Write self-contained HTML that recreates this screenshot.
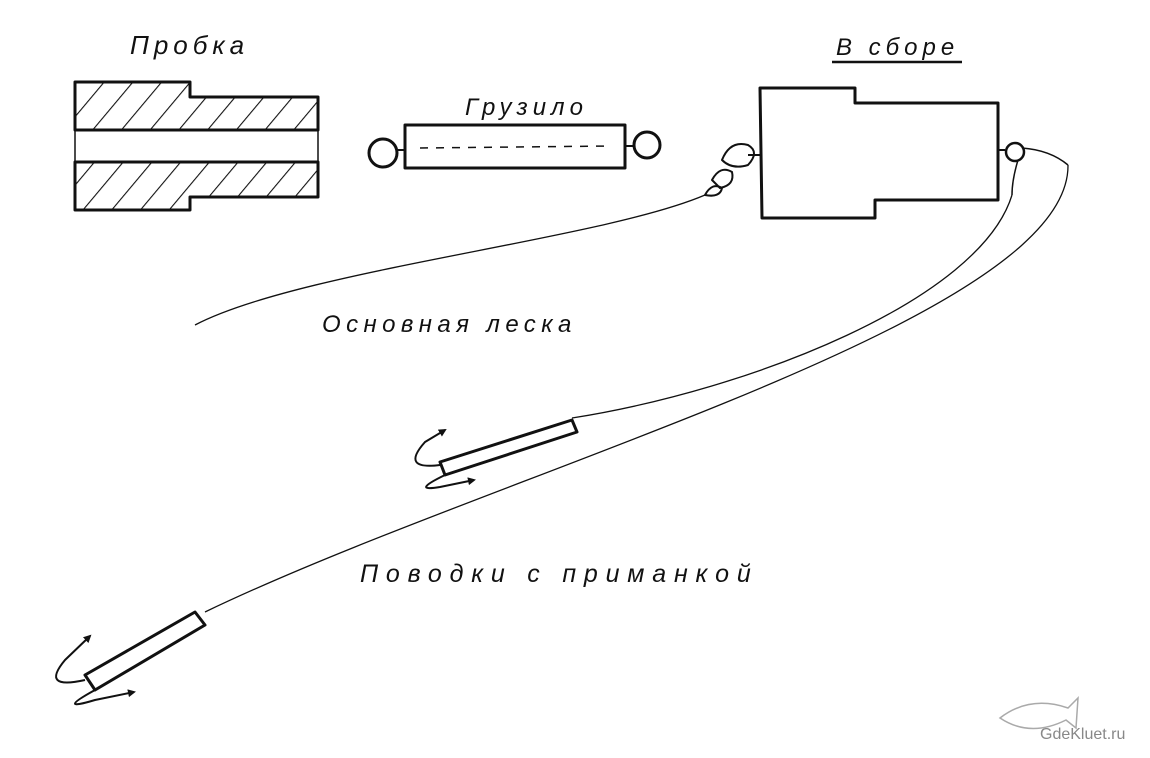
<!DOCTYPE html>
<html><head><meta charset="utf-8"><style>
html,body{margin:0;padding:0;background:#fff;}
svg{display:block}
text{font-family:"Liberation Sans","DejaVu Sans",sans-serif;font-style:italic;fill:#111}
</style></head><body>
<svg width="1150" height="758" viewBox="0 0 1150 758" xmlns="http://www.w3.org/2000/svg">
<defs>
<pattern id="h" width="22" height="22" patternUnits="userSpaceOnUse" patternTransform="rotate(40)">
<line x1="0" y1="0" x2="0" y2="22" stroke="#111" stroke-width="2.2"/></pattern>
<marker id="ar" markerWidth="8" markerHeight="8" refX="6" refY="4" orient="auto" markerUnits="userSpaceOnUse">
<path d="M0,0 L8,4 L0,8 Z" fill="#111"/></marker>
</defs>
<g fill="none" stroke="#111" stroke-width="3" stroke-linejoin="round">
<path d="M75,82 L190,82 L190,97 L318,97 L318,130 L75,130 Z" fill="url(#h)"/>
<path d="M75,162 L318,162 L318,197 L190,197 L190,210 L75,210 Z" fill="url(#h)"/>
<line x1="318" y1="130" x2="318" y2="162" stroke-width="1.5"/>
<line x1="75" y1="130" x2="75" y2="162" stroke-width="1.5"/>
<rect x="405" y="125" width="220" height="43"/>
<circle cx="383" cy="153" r="14"/>
<circle cx="647" cy="145" r="13"/>
<line x1="397" y1="150" x2="405" y2="150" stroke-width="2"/>
<line x1="625" y1="146" x2="634" y2="146" stroke-width="2"/>
<line x1="420" y1="148" x2="612" y2="146" stroke-width="1.5" stroke-dasharray="8,8"/>
<path d="M760,88 L855,88 L855,103 L998,103 L998,200 L875,200 L875,218 L762,218 Z"/>
<path d="M722,160 Q730,140 748,145 Q760,152 748,165 Q732,170 722,160 Z" stroke-width="2"/>
<path d="M748,155 L760,155" stroke-width="2"/>
<path d="M712,180 Q720,165 732,172 Q735,185 720,188 Z" stroke-width="2"/>
<path d="M705,195 Q712,182 722,188 Q720,198 705,195 Z" stroke-width="2"/>
<circle cx="1015" cy="152" r="9" stroke-width="2.5"/>
<path d="M1005,150 L998,150" stroke-width="2"/>
<path d="M1022,148 Q1050,150 1068,165" stroke-width="1.5"/>
<path d="M1018,160 Q1012,180 1012,195" stroke-width="1.5"/>
<path d="M705,195 C600,240 300,270 195,325" stroke-width="1.3"/>
<path d="M1012,195 C980,300 750,390 572,418" stroke-width="1.3"/>
<path d="M1068,165 C1070,320 500,470 205,612" stroke-width="1.3"/>
<path d="M440,462 L572,420 L577,432 L445,475 Z" stroke-width="3"/>
<path d="M440,465 Q400,470 425,442 L445,430" stroke-width="2" marker-end="url(#ar)"/>
<path d="M445,475 Q410,492 440,487 L474,480" stroke-width="2" marker-end="url(#ar)"/>
<path d="M85,675 L195,612 L205,625 L95,690 Z" stroke-width="3"/>
<path d="M85,680 Q40,690 65,660 L90,636" stroke-width="2" marker-end="url(#ar)"/>
<path d="M95,690 Q55,712 95,700 L134,692" stroke-width="2" marker-end="url(#ar)"/>
<line x1="832" y1="62" x2="962" y2="62" stroke-width="2.5"/>
</g>
<text x="130" y="54" font-size="26" letter-spacing="5">Пробка</text>
<text x="465" y="115" font-size="24" letter-spacing="5">Грузило</text>
<text x="836" y="55" font-size="24" letter-spacing="5">В сборе</text>
<text x="322" y="332" font-size="24" letter-spacing="5.4">Основная леска</text>
<text x="360" y="582" font-size="25" letter-spacing="7.8">Поводки с приманкой</text>
<path d="M1000,718 Q1030,695 1068,708 L1078,698 L1076,728 L1066,720 Q1030,738 1000,718 Z" fill="none" stroke="#aaa" stroke-width="1.5"/>
<text x="1040" y="739" font-size="16" style="font-style:normal;fill:#888">GdeKluet.ru</text>
</svg>
</body></html>
